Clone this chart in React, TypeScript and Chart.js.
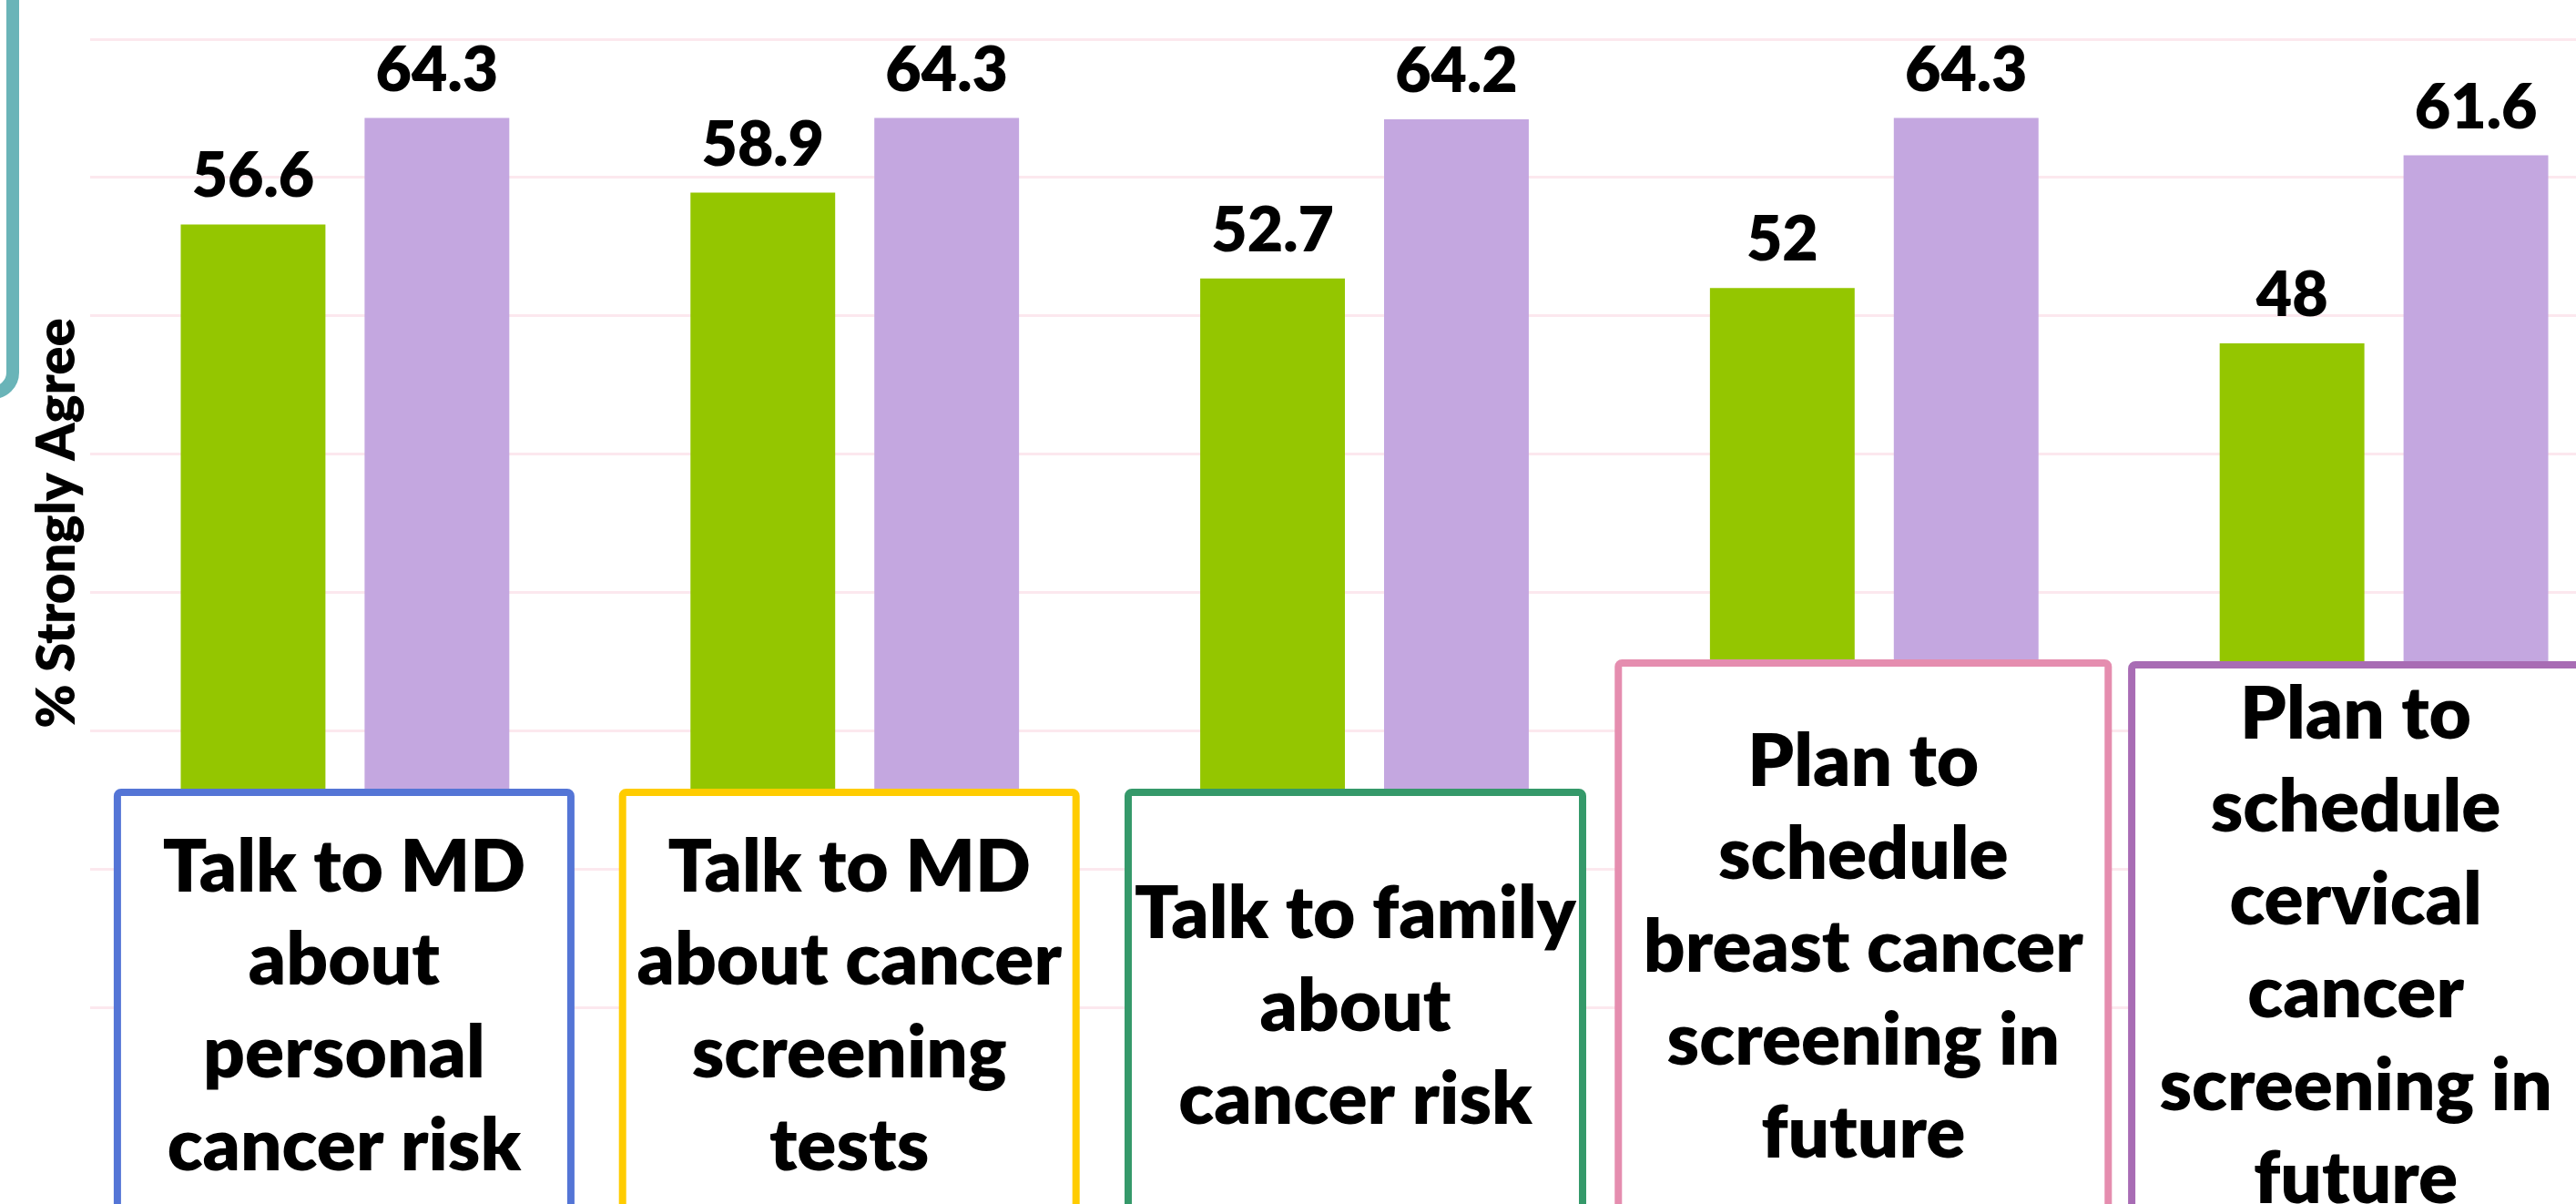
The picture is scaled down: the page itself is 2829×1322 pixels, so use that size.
import { useEffect, useRef } from "react";
import { Chart, registerables } from "chart.js";

Chart.register(...registerables);

// ---- data ----
const categoryLines: string[][] = [
  ["Talk to MD", "about", "personal", "cancer risk"],
  ["Talk to MD", "about cancer", "screening", "tests"],
  ["Talk to family", "about", "cancer risk"],
  ["Plan to", "schedule", "breast cancer", "screening in", "future"],
  ["Plan to", "schedule", "cervical", "cancer", "screening in", "future"],
];
const categories = categoryLines.map((l) => l.join(" "));
const seriesGreen = [56.6, 58.9, 52.7, 52, 48];
const seriesPurple = [64.3, 64.3, 64.2, 64.3, 61.6];
const seriesNames = ["Series 1", "Series 2"];
const yTitle = "% Strongly Agree";
const yMin = 0;
const yMax = 70;
const yStep = 10;

// ---- styles / layout ----
const GREEN = "#94C600";
const PURPLE = "#C4A7E0";
const GRID = "#FCE8EE";
const boxColors = ["#5475D6", "#FFCC00", "#35996A", "#E58DAF", "#A86CB4"];
const boxLayout = [
  { dx: -1, w: 506, top: 866, cy: 1106 },
  { dx: -6, w: 506, top: 866, cy: 1106 },
  { dx: -10, w: 507, top: 866, cy: 1106 },
  { dx: -12, w: 546, top: 724, cy: 1041 },
  { dx: -31, w: 500, top: 726, cy: 1040 },
];
const FONT = "Lato, 'Open Sans', sans-serif";

const overlayPlugin = {
  id: "overlay",
  afterDatasetsDraw(chart: any) {
    const ctx = chart.ctx;
    ctx.save();
    ctx.fillStyle = "#000";
    ctx.font = `800 68px ${FONT}`;
    ctx.textAlign = "center";
    ctx.textBaseline = "alphabetic";
    chart.data.datasets.forEach((ds: any, i: number) => {
      const meta = chart.getDatasetMeta(i);
      meta.data.forEach((bar: any, j: number) => {
        ctx.fillText(String(ds.data[j]), bar.x, bar.y - 30);
      });
    });
    ctx.restore();
  },
  afterDraw(chart: any) {
    const ctx = chart.ctx;
    const xs = chart.scales.x;
    ctx.save();
    // teal frame edge at top-left
    ctx.strokeStyle = "#6AB4B8";
    ctx.lineWidth = 14;
    ctx.beginPath();
    ctx.roundRect(-400, -60, 414, 491, 22);
    ctx.stroke();

    const lw = 8;
    categoryLines.forEach((lines, i) => {
      const b = boxLayout[i];
      const cx = xs.getPixelForValue(i) + b.dx;
      const left = cx - b.w / 2;
      ctx.fillStyle = "#fff";
      ctx.strokeStyle = boxColors[i];
      ctx.lineWidth = lw;
      ctx.beginPath();
      ctx.roundRect(left + lw / 2, b.top + lw / 2, b.w - lw, 700, 4);
      ctx.fill();
      ctx.stroke();
      ctx.fillStyle = "#000";
      ctx.font = `800 80px ${FONT}`;
      ctx.textAlign = "center";
      ctx.textBaseline = "middle";
      const lh = 102;
      lines.forEach((t, k) => {
        ctx.fillText(t, cx, b.cy + (k - (lines.length - 1) / 2) * lh);
      });
    });
    ctx.restore();
  },
};

export default function App() {
  const ref = useRef<HTMLCanvasElement | null>(null);
  useEffect(() => {
    if (!ref.current) return;
    const chart = new Chart(ref.current, {
      type: "bar",
      data: {
        labels: categories,
        datasets: [
          {
            label: seriesNames[0],
            data: seriesGreen,
            backgroundColor: GREEN,
            borderWidth: 0,
            categoryPercentage: 0.7214,
            barPercentage: 0.787,
          },
          {
            label: seriesNames[1],
            data: seriesPurple,
            backgroundColor: PURPLE,
            borderWidth: 0,
            categoryPercentage: 0.7214,
            barPercentage: 0.787,
          },
        ],
      },
      options: {
        responsive: false,
        animation: false,
        devicePixelRatio: 1,
        layout: { padding: { left: 0, right: 0, top: 43, bottom: 216 } },
        plugins: {
          legend: { display: false },
          tooltip: { enabled: false },
          title: { display: false },
        },
        scales: {
          x: { display: false },
          y: {
            min: yMin,
            max: yMax,
            ticks: { display: false, stepSize: yStep },
            grid: { color: GRID, lineWidth: 3, drawTicks: false },
            border: { display: false },
            title: {
              display: true,
              text: yTitle,
              color: "#000",
              font: { family: FONT, weight: "800", size: 58 },
              padding: { top: 28, bottom: 0 },
            },
            afterFit: (scale: any) => {
              scale.width = 99;
            },
          },
        },
      },
      plugins: [overlayPlugin],
    } as any);
    return () => chart.destroy();
  }, []);
  return (
    <div
      style={{
        position: "absolute",
        left: 0,
        top: 0,
        width: 2829,
        height: 1322,
        overflow: "hidden",
        background: "#fff",
      }}
    >
      <canvas ref={ref} width={2898} height={1322} style={{ display: "block" }} />
    </div>
  );
}
